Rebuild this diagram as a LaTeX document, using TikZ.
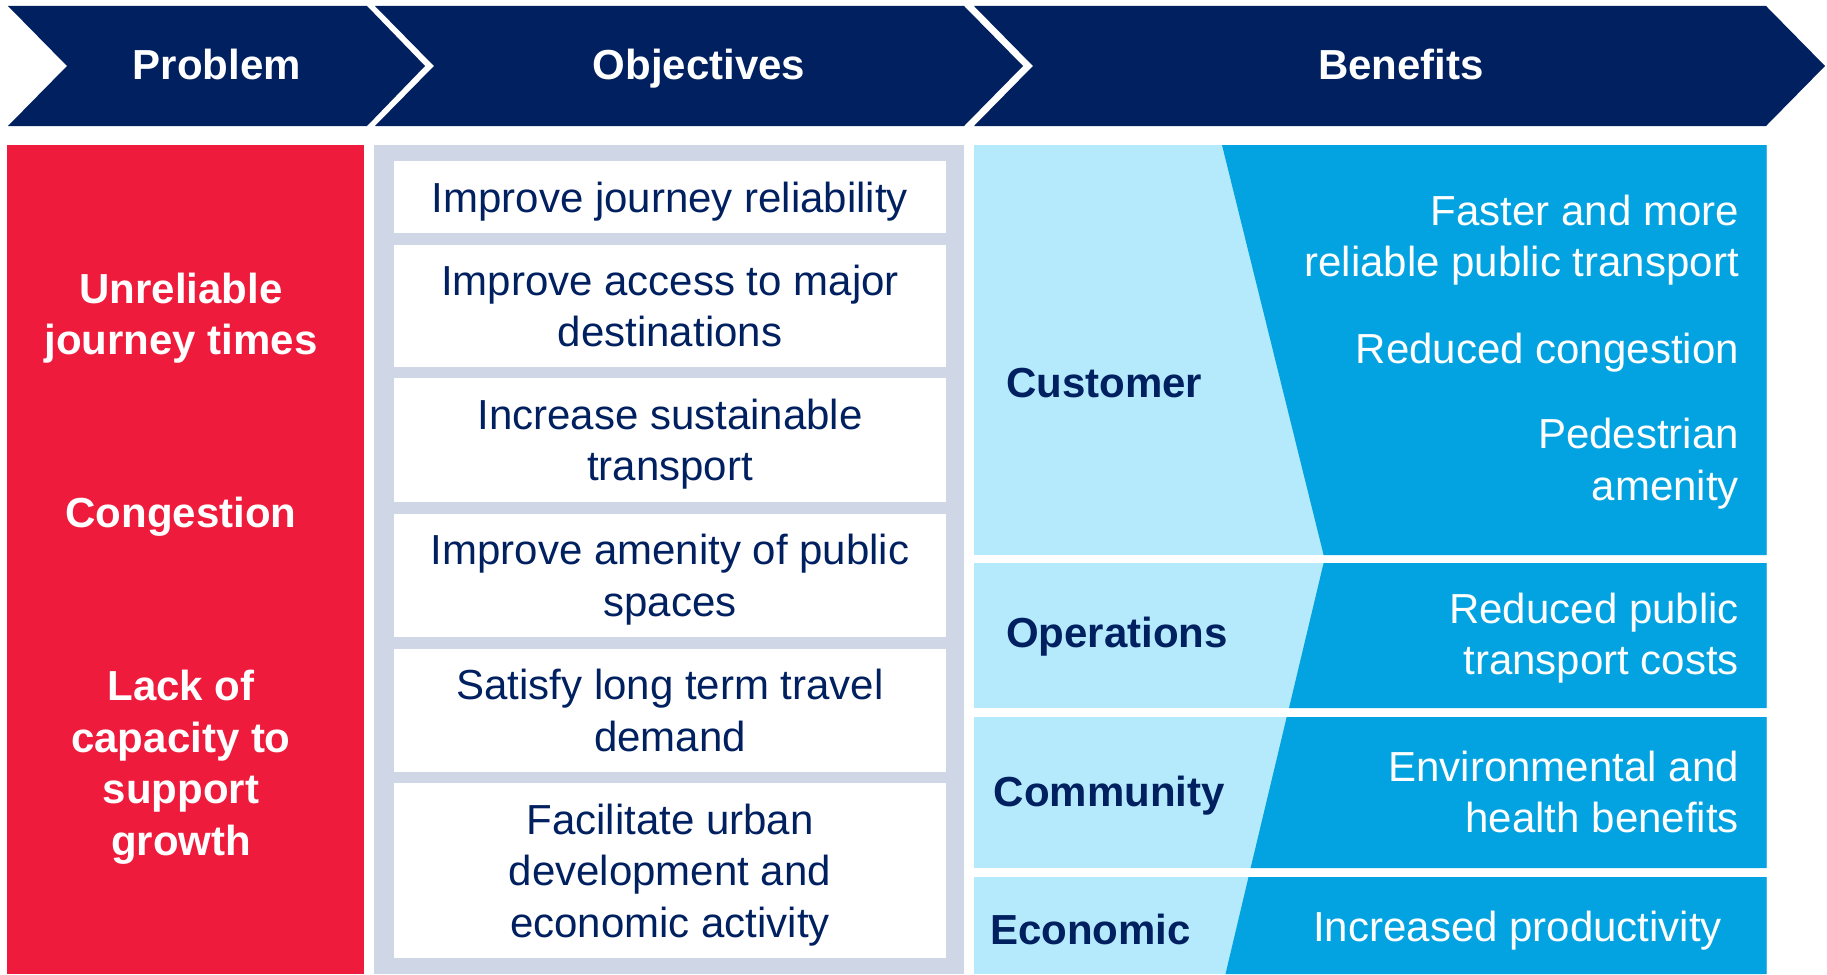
\documentclass[tikz,border=0pt]{standalone}
\usepackage{fontspec}
\setmainfont{Liberation Sans}
\usepackage{tikz}
\usetikzlibrary{positioning}

\definecolor{navy}{HTML}{002060}
\definecolor{probred}{HTML}{EE1B3C}
\definecolor{objgrey}{HTML}{CFD6E5}
\definecolor{benlight}{HTML}{B5EAFC}
\definecolor{bendark}{HTML}{02A3E0}

\tikzset{
  bigfont/.style={font=\fontsize{42}{51.5}\selectfont},
  headtxt/.style={text=white, inner sep=0pt, font=\bfseries\fontsize{42}{51.5}\selectfont, align=center},
  objbox/.style={fill=white, minimum width=552pt, inner sep=0pt, text depth=0pt, text=navy, bigfont, align=center},
  catlbl/.style={text=navy, inner sep=0pt, anchor=west, font=\bfseries\fontsize{42}{51.5}\selectfont},
  bentxt/.style={text=white, inner sep=0pt, anchor=east, bigfont, align=right}
}

\begin{document}
\begin{tikzpicture}[x=1pt, y=-1pt]

\useasboundingbox (0,0) rectangle (1827,974);

% header chevrons
\fill[navy] (8,6) -- (367,6) -- (425,66) -- (367,126) -- (8,126) -- (67,66) -- cycle;
\fill[navy] (375,6) -- (964,6) -- (1023,66) -- (964,126) -- (375,126) -- (434,66) -- cycle;
\fill[navy] (974,6) -- (1766,6) -- (1825,66) -- (1766,126) -- (974,126) -- (1033,66) -- cycle;

\node[headtxt] (hprob) at (217,64.5) {Problem};
\node[headtxt] (hobj) at (699,69) {Objectives};
\node[headtxt] (hben) at (1401,64.5) {Benefits};

% problem column
\fill[probred] (7,145) rectangle (364,974);
\node[headtxt] (p1) at (181,318) {Unreliable\\journey times};
\node[headtxt] (p2) at (181,517) {Congestion};
\node[headtxt] (p3) at (181,767) {Lack of\\capacity to\\support\\growth};

% objectives column
\fill[objgrey] (374,145) rectangle (964,974);
\node[objbox, minimum height=71.7pt] (o1) at (670,196.9) {Improve journey reliability};
\node[objbox, minimum height=121.7pt] (o2) at (670,305.9) {Improve access to major\\destinations};
\node[objbox, minimum height=123.7pt] (o3) at (670,439.9) {Increase sustainable\\transport};
\node[objbox, minimum height=122.7pt] (o4) at (670,575.3) {Improve amenity of public\\spaces};
\node[objbox, minimum height=122.7pt] (o5) at (670,710.3) {Satisfy long term travel\\demand};
\node[objbox, minimum height=174.7pt] (o6) at (670,870.3) {Facilitate urban\\development and\\economic activity};

% benefits rows
\fill[benlight] (973.5,145) rectangle (1766.5,555);
\fill[benlight] (973.5,563) rectangle (1766.5,708);
\fill[benlight] (973.5,717) rectangle (1766.5,868);
\fill[benlight] (973.5,877) rectangle (1766.5,974);

\fill[bendark] (1222,145) -- (1766.5,145) -- (1766.5,555) -- (1323.6,555) -- cycle;
\fill[bendark] (1323.6,563) -- (1766.5,563) -- (1766.5,708) -- (1289,708) -- cycle;
\fill[bendark] (1286.7,717) -- (1766.5,717) -- (1766.5,868) -- (1250.6,868) -- cycle;
\fill[bendark] (1248.5,877) -- (1766.5,877) -- (1766.5,974) -- (1225.5,974) -- cycle;

\node[catlbl] (cust) at (1006,382.7) {Customer};
\node[catlbl] (oper) at (1006,636.9) {Operations};
\node[catlbl] (comm) at (993.6,795.6) {Community};
\node[catlbl] (econ) at (990,929.5) {Economic};

\node[bentxt] (b1) at (1739,240) {Faster and more\\reliable public transport};
\node[bentxt] (b2) at (1739,352.4) {Reduced congestion};
\node[bentxt] (b3) at (1739,463.8) {Pedestrian\\amenity};
\node[bentxt] (b4) at (1739,638.3) {Reduced public\\transport costs};
\node[bentxt] (b5) at (1739,792) {Environmental and\\health benefits};
\node[bentxt] (b6) at (1722,930.8) {Increased productivity};

\end{tikzpicture}
\end{document}
